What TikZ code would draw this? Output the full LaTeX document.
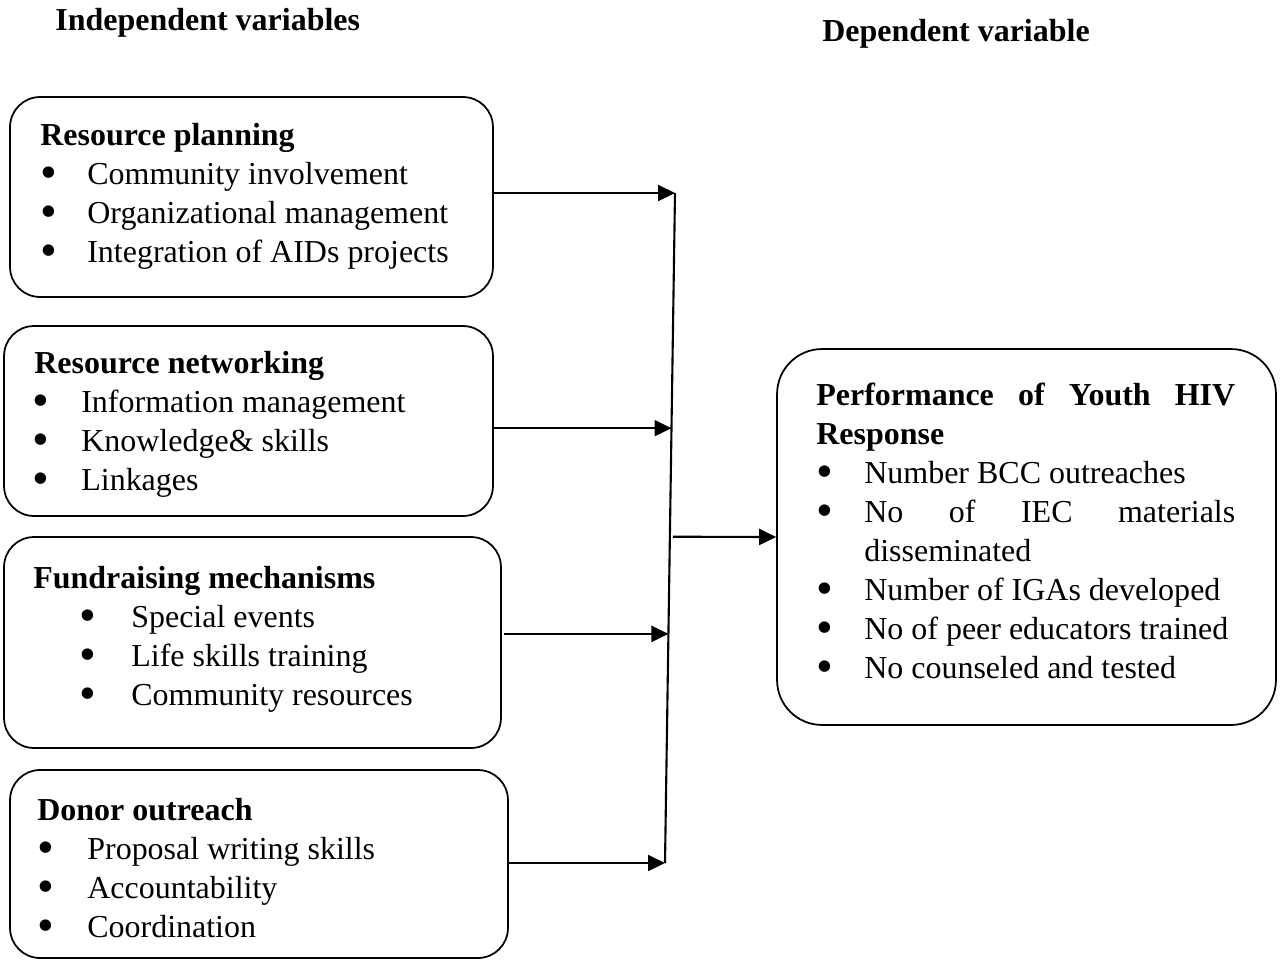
\documentclass[tikz,border=0pt]{standalone}
\usepackage{fontspec}
\usepackage{graphicx}
\setmainfont{Liberation Serif}
\usetikzlibrary{arrows.meta,calc}
\newcommand{\bul}[2]{\makebox[#2][l]{\hspace{#1}\raisebox{-0.14em}{\scalebox{1.5}{\textbullet}}}}

\begin{document}
\begin{tikzpicture}[x=0.02cm,y=-0.02cm,
    every node/.style={font=\fontsize{18.2pt}{22.2pt}\selectfont},
    box/.style={draw=black,line width=1pt,rounded corners=0.6cm,inner sep=0pt},
    txt/.style={anchor=base west,inner sep=0pt},
    arr/.style={line width=1.2pt,-{Triangle[length=0.34cm,width=0.32cm]}}]
	\useasboundingbox (0,0) rectangle (1281,961);
	% headings
	\node[txt] (hind) at (55,30)  {\textbf{Independent variables}};
	\node[txt] (hdep) at (822,41) {\textbf{Dependent variable}};
	% boxes
	\node[box,minimum width=9.66cm,minimum height=4.0cm]  (plan) at (251.5,197)  {};
	\node[box,minimum width=9.78cm,minimum height=3.8cm]  (net)  at (248.5,421)  {};
	\node[box,minimum width=9.94cm,minimum height=4.22cm] (fund) at (252.5,642.5) {};
	\node[box,minimum width=9.96cm,minimum height=3.76cm] (don)  at (259,864)    {};
	\node[box,rounded corners=0.9cm,minimum width=9.98cm,minimum height=7.52cm] (resp) at (1026.5,537) {};
	% box texts
	\node[txt] (tplan) at (40,145) {\begin{tabular}[t]{@{}l@{}}
	    \textbf{Resource planning}\\
	    \bul{0pt}{0.94cm}Community involvement\\
	    \bul{0pt}{0.94cm}Organizational management\\
	    \bul{0pt}{0.94cm}Integration of AIDs projects
	  \end{tabular}};
	\node[txt] (tnet) at (34,373) {\begin{tabular}[t]{@{}l@{}}
	    \textbf{Resource networking}\\
	    \bul{-0.04cm}{0.94cm}Information management\\
	    \bul{-0.04cm}{0.94cm}Knowledge\& skills\\
	    \bul{-0.04cm}{0.94cm}Linkages
	  \end{tabular}};
	\node[txt] (tfund) at (33,588) {\begin{tabular}[t]{@{}l@{}}
	    \textbf{Fundraising mechanisms}\\
	    \bul{0.93cm}{1.96cm}Special events\\
	    \bul{0.93cm}{1.96cm}Life skills training\\
	    \bul{0.93cm}{1.96cm}Community resources
	  \end{tabular}};
	\node[txt] (tdon) at (37,820) {\begin{tabular}[t]{@{}l@{}}
	    \textbf{Donor outreach}\\
	    \bul{0pt}{1.0cm}Proposal writing skills\\
	    \bul{0pt}{1.0cm}Accountability\\
	    \bul{0pt}{1.0cm}Coordination
	  \end{tabular}};
	\node[txt] (tresp) at (816,405) {\begin{tabular}[t]{@{}l@{}}
	    \makebox[8.38cm][s]{\textbf{Performance of Youth HIV}}\\
	    \textbf{Response}\\
	    \bul{0pt}{0.96cm}Number BCC outreaches\\
	    \bul{0pt}{0.96cm}\makebox[7.42cm][s]{No of IEC materials}\\
	    \hspace{0.96cm}disseminated\\
	    \bul{0pt}{0.96cm}Number of IGAs developed\\
	    \bul{0pt}{0.96cm}No of peer educators trained\\
	    \bul{0pt}{0.96cm}No counseled and tested
	  \end{tabular}};
	% joining line
	\coordinate (top) at (675,193);
	\coordinate (bot) at (665,863);
	\coordinate (jn2) at ($(top)!0.351!(bot)$);
	\coordinate (jn3) at ($(top)!0.658!(bot)$);
	\coordinate (jn5) at ($(top)!0.513!(bot)+(3,0)$);
	\draw[line width=1.2pt] (top) -- (bot);
	\draw[arr] (plan.east |- top) -- (top);
	\draw[arr] (net.east |- jn2) -- (jn2);
	\draw[arr] ([xshift=0.04cm]fund.east |- jn3) -- (jn3);
	\draw[arr] (don.east |- bot) -- (bot);
	\draw[arr] (jn5) -- (resp.west);
\end{tikzpicture}
\end{document}
